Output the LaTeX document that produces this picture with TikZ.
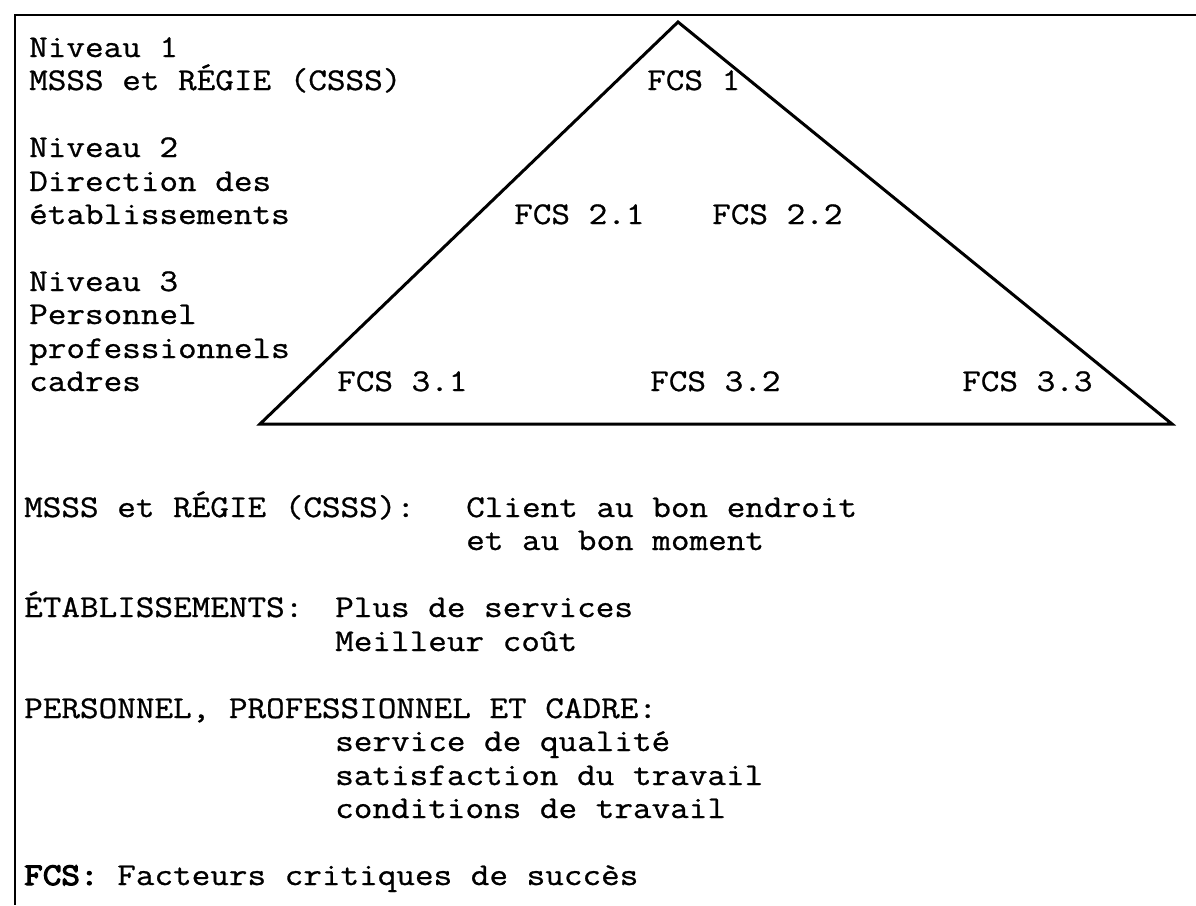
\documentclass[tikz,border=0pt]{standalone}
\usepackage{fontspec}
\setmonofont{Latin Modern Mono}[FakeStretch=1.14, FakeBold=0.8]
\newfontfamily\fcsbold{Latin Modern Mono}[FakeStretch=1.14, FakeBold=3.5]
\usetikzlibrary{positioning}

\begin{document}
\begin{tikzpicture}[
    x=1pt,
    y=-1pt,
    txt/.style={
        anchor=base west,
        inner sep=0pt,
        font=\ttfamily\fontsize{31.7}{33.5}\selectfont
    },
    frame/.style={line width=2.4pt},
    tri/.style={line width=3pt, line join=miter}
]
\useasboundingbox (0,0) rectangle (1196,905);

% frame: top and left rules
\coordinate (ftl) at (15,15);
\coordinate (ftr) at (1196,15);
\coordinate (fbl) at (15,905);
\draw[frame] (ftr) -- (ftl) -- (fbl);

% pyramid
\coordinate (apex) at (678,22);
\coordinate (bl) at (260,424);
\coordinate (br) at (1172,424);
\draw[tri] (apex) -- (bl) -- (br) -- cycle;

% levels, left column
\node[txt] (niv1)  at (29,57)  {Niveau 1};
\node[txt] (niv1b) at (29,90)  {MSSS et RÉGIE (CSSS)};
\node[txt] (niv2)  at (29,157) {Niveau 2};
\node[txt] (niv2b) at (29,191) {Direction des};
\node[txt] (niv2c) at (29,224) {établissements};
\node[txt] (niv3)  at (29,291) {Niveau 3};
\node[txt] (niv3b) at (29,324) {Personnel};
\node[txt] (niv3c) at (29,358) {professionnels};
\node[txt] (niv3d) at (29,391) {cadres};

% critical factors inside the pyramid
\node[txt] (fcs1)  at (647,90)  {FCS 1};
\node[txt] (fcs21) at (514,224) {FCS 2.1};
\node[txt] (fcs22) at (712,224) {FCS 2.2};
\node[txt] (fcs31) at (337,391) {FCS 3.1};
\node[txt] (fcs32) at (650,391) {FCS 3.2};
\node[txt] (fcs33) at (962,391) {FCS 3.3};

% legend below
\node[txt] (msss)   at (24,517)  {MSSS et RÉGIE (CSSS):};
\node[txt] (msssa)  at (466,517) {Client au bon endroit};
\node[txt] (msssb)  at (466,550) {et au bon moment};
\node[txt] (etab)   at (24,617)  {ÉTABLISSEMENTS:};
\node[txt] (etaba)  at (335,617) {Plus de services};
\node[txt] (etabb)  at (335,651) {Meilleur coût};
\node[txt] (pers)   at (24,718)  {PERSONNEL, PROFESSIONNEL ET CADRE:};
\node[txt] (persa)  at (335,751) {service de qualité};
\node[txt] (persb)  at (335,785) {satisfaction du travail};
\node[txt] (persc)  at (335,818) {conditions de travail};
\node[txt] (fcsdef) at (24,885)  {{\fcsbold FCS:} Facteurs critiques de succès};

\end{tikzpicture}
\end{document}
